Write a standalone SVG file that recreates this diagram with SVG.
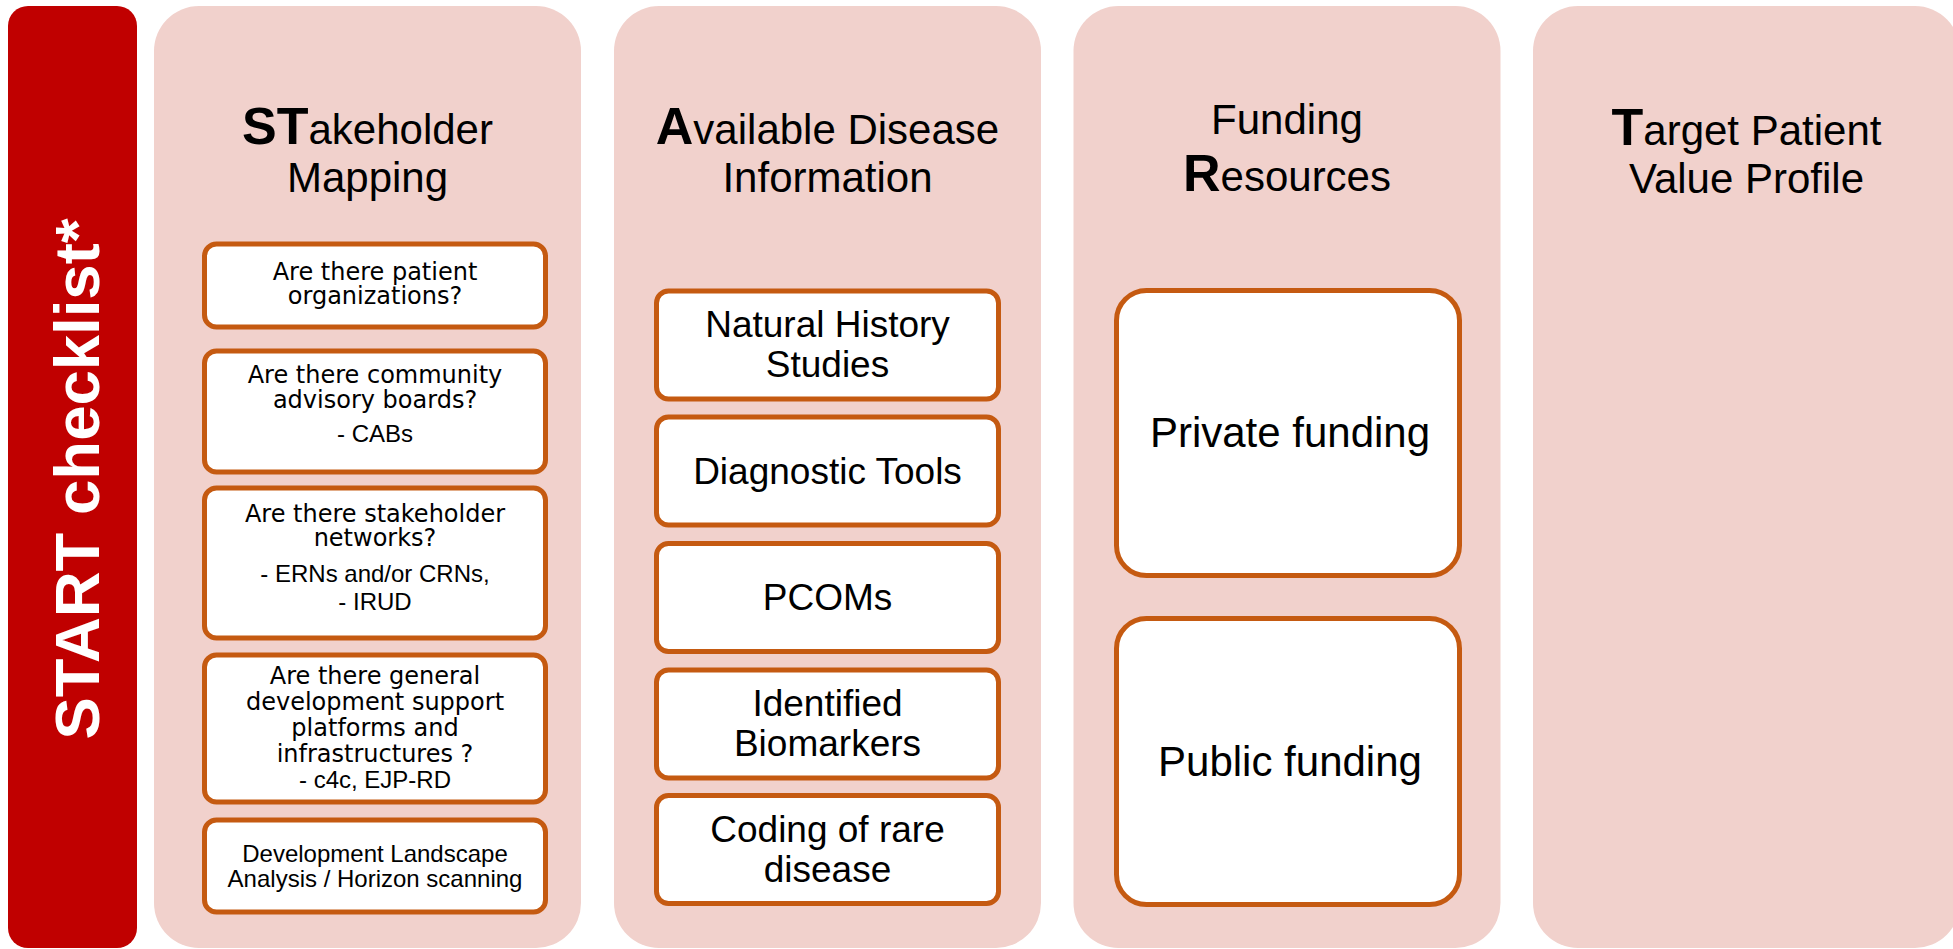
<svg xmlns="http://www.w3.org/2000/svg" width="1953" height="949" viewBox="0 0 1953 949">
<style>
.col{fill:#f1d1cc}
.box{fill:#fff;stroke:#c55a11;stroke-width:5}
.h{font-family:"Liberation Sans",Arial,sans-serif;font-size:42px;fill:#000;text-anchor:middle}
.hb{font-weight:bold;font-size:52px}
.q{font-family:"DejaVu Sans",Verdana,sans-serif;font-size:24px;fill:#000;text-anchor:middle}
.a{font-family:"Liberation Sans",Arial,sans-serif;font-size:24px;fill:#000;text-anchor:middle}
.b{font-family:"Liberation Sans",Arial,sans-serif;font-size:37px;fill:#000;text-anchor:middle}
.f{font-family:"Liberation Sans",Arial,sans-serif;font-size:42px;fill:#000;text-anchor:middle}
</style>
<rect width="1953" height="949" fill="#fff"/>
<g id="start">
<rect x="8" y="6" width="129" height="942" rx="20" fill="#c00000"/>
<text transform="translate(99,479) rotate(-90)" x="0" y="0" font-family="Liberation Sans,Arial,sans-serif" font-weight="bold" font-size="63.5" fill="#fff" text-anchor="middle">START checklist*</text>
</g>
<g id="col-stakeholder">
<rect class="col" x="154" y="6" width="427" height="942" rx="45"/>
<text class="h" x="367.5" y="144"><tspan class="hb">ST</tspan>akeholder</text>
<text class="h" x="367.5" y="192">Mapping</text>
</g>
<g id="col-available">
<rect class="col" x="614" y="6" width="427" height="942" rx="45"/>
<text class="h" x="827.5" y="144"><tspan class="hb">A</tspan>vailable Disease</text>
<text class="h" x="827.5" y="192">Information</text>
</g>
<g id="col-funding">
<rect class="col" x="1073.5" y="6" width="427" height="942" rx="45"/>
<text class="h" x="1287" y="134">Funding</text>
<text class="h" x="1287" y="191"><tspan class="hb">R</tspan>esources</text>
</g>
<g id="col-target">
<rect class="col" x="1533" y="6" width="427" height="942" rx="45"/>
<text class="h" x="1746.5" y="145"><tspan class="hb">T</tspan>arget Patient</text>
<text class="h" x="1746.5" y="193">Value Profile</text>
</g>
<g id="patient-orgs">
<rect class="box" x="204.5" y="244" width="341" height="83" rx="12"/>
<text class="q" x="375" y="280">Are there patient</text>
<text class="q" x="375" y="304">organizations?</text>
</g>
<g id="cabs">
<rect class="box" x="204.5" y="351" width="341" height="121" rx="12"/>
<text class="q" x="375" y="383">Are there community</text>
<text class="q" x="375" y="408">advisory boards?</text>
<text class="a" x="375" y="442">- CABs</text>
</g>
<g id="networks">
<rect class="box" x="204.5" y="488" width="341" height="150" rx="12"/>
<text class="q" x="375" y="522">Are there stakeholder</text>
<text class="q" x="375" y="546">networks?</text>
<text class="a" x="375" y="582">- ERNs and/or CRNs,</text>
<text class="a" x="375" y="610">- IRUD</text>
</g>
<g id="platforms">
<rect class="box" x="204.5" y="655" width="341" height="147" rx="12"/>
<text class="q" x="375" y="684">Are there general</text>
<text class="q" x="375" y="710">development support</text>
<text class="q" x="375" y="736">platforms and</text>
<text class="q" x="375" y="762">infrastructures ?</text>
<text class="a" x="375" y="788">- c4c, EJP-RD</text>
</g>
<g id="landscape">
<rect class="box" x="204.5" y="820" width="341" height="92" rx="12"/>
<text class="a" x="375" y="862">Development Landscape</text>
<text class="a" x="375" y="887">Analysis / Horizon scanning</text>
</g>
<g id="natural-history">
<rect class="box" x="656.5" y="291" width="342" height="108" rx="12"/>
<text class="b" x="827.5" y="337">Natural History</text>
<text class="b" x="827.5" y="377">Studies</text>
</g>
<g id="diagnostic">
<rect class="box" x="656.5" y="417" width="342" height="108" rx="12"/>
<text class="b" x="827.5" y="484">Diagnostic Tools</text>
</g>
<g id="pcoms">
<rect class="box" x="656.5" y="543.5" width="342" height="108" rx="12"/>
<text class="b" x="827.5" y="610">PCOMs</text>
</g>
<g id="biomarkers">
<rect class="box" x="656.5" y="670" width="342" height="108" rx="12"/>
<text class="b" x="827.5" y="716">Identified</text>
<text class="b" x="827.5" y="756">Biomarkers</text>
</g>
<g id="coding">
<rect class="box" x="656.5" y="795.5" width="342" height="108" rx="12"/>
<text class="b" x="827.5" y="842">Coding of rare</text>
<text class="b" x="827.5" y="882">disease</text>
</g>
<g id="private">
<rect class="box" x="1116.5" y="290.5" width="343" height="285" rx="30"/>
<text class="f" x="1290" y="447">Private funding</text>
</g>
<g id="public">
<rect class="box" x="1116.5" y="618.5" width="343" height="286" rx="30"/>
<text class="f" x="1290" y="776">Public funding</text>
</g>
<g id="connectors"></g>
</svg>
